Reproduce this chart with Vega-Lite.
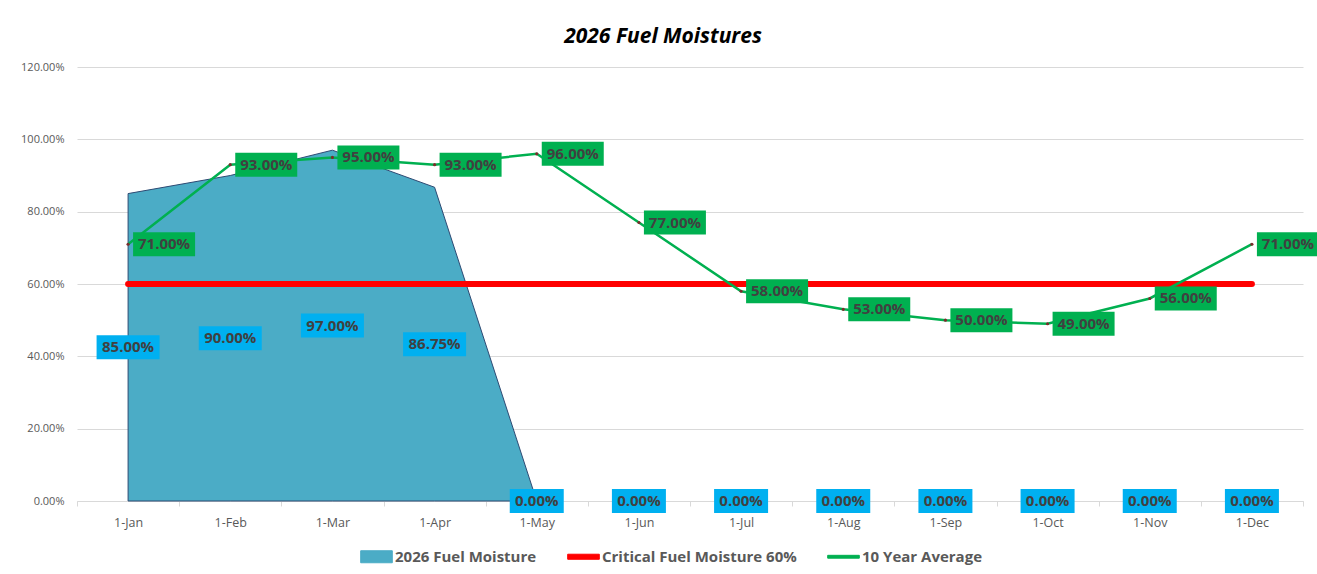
{
  "$schema": "https://vega.github.io/schema/vega-lite/v6.json",
  "width": 1226,
  "height": 434,
  "autosize": "none",
  "padding": {"left": 77, "top": 67, "right": 14, "bottom": 73},
  "background": "#ffffff",
  "config": {"view": {"stroke": null}, "font": "Open Sans"},
  "title": {"text": "2026 Fuel Moistures", "font": "Open Sans", "fontSize": 21, "fontWeight": "bold", "fontStyle": "italic", "color": "#000000", "anchor": "middle", "dx": -27, "offset": 14},
  "data": {"values": [
    {"month": "1-Jan", "fuel": 0.85, "critical": 0.6, "avg": 0.71},
    {"month": "1-Feb", "fuel": 0.90, "critical": 0.6, "avg": 0.93},
    {"month": "1-Mar", "fuel": 0.97, "critical": 0.6, "avg": 0.95},
    {"month": "1-Apr", "fuel": 0.8675, "critical": 0.6, "avg": 0.93},
    {"month": "1-May", "fuel": 0.0, "critical": 0.6, "avg": 0.96},
    {"month": "1-Jun", "fuel": 0.0, "critical": 0.6, "avg": 0.77},
    {"month": "1-Jul", "fuel": 0.0, "critical": 0.6, "avg": 0.58},
    {"month": "1-Aug", "fuel": 0.0, "critical": 0.6, "avg": 0.53},
    {"month": "1-Sep", "fuel": 0.0, "critical": 0.6, "avg": 0.50},
    {"month": "1-Oct", "fuel": 0.0, "critical": 0.6, "avg": 0.49},
    {"month": "1-Nov", "fuel": 0.0, "critical": 0.6, "avg": 0.56},
    {"month": "1-Dec", "fuel": 0.0, "critical": 0.6, "avg": 0.71}
  ]},
  "encoding": {
    "x": {"field": "month", "type": "nominal", "sort": null,
      "scale": {"type": "band", "paddingInner": 0, "paddingOuter": 0},
      "axis": {"title": null, "labelAngle": 0, "labelColor": "#595959", "labelFontSize": 12.5, "labelFont": "Open Sans", "tickBand": "extent", "tickSize": 5, "tickColor": "#D9D9D9", "domainColor": "#D9D9D9", "labelPadding": 10, "zindex": 0}}
  },
  "layer": [
    {
      "transform": [{"filter": "datum.fuel > 0 || datum.month === '1-May'"}],
      "mark": {"type": "area", "stroke": "#2E4A73", "strokeWidth": 1, "opacity": 1, "fillOpacity": 1},
      "encoding": {
        "y": {"field": "fuel", "type": "quantitative", "scale": {"domain": [0, 1.2]},
          "axis": {"title": null, "format": ".2%", "values": [0, 0.2, 0.4, 0.6, 0.8, 1.0, 1.2], "grid": true, "gridColor": "#D9D9D9", "domain": false, "ticks": false, "labelColor": "#595959", "labelFontSize": 11, "labelFont": "Open Sans", "labelPadding": 13}},
        "color": {"datum": "2026 Fuel Moisture", "type": "nominal",
          "scale": {"domain": ["2026 Fuel Moisture", "Critical Fuel Moisture 60%", "10 Year Average"], "range": ["#4BACC6", "#FF0000", "#00B050"]},
          "legend": {"title": null, "orient": "none", "legendX": 283, "legendY": 473, "direction": "horizontal", "columns": 3, "columnPadding": 28, "labelOffset": 2, "labelLimit": 400, "labelFont": "Open Sans", "labelFontSize": 15, "labelFontWeight": "bold", "labelColor": "#595959", "symbolSize": 1000,
            "symbolType": {"expr": "datum.value === '2026 Fuel Moisture' ? 'M-1,-0.38H1V0.38H-1Z' : (datum.value === '10 Year Average' ? 'M-1,-0.09H1V0.09H-1Z' : 'M-1,-0.16H1V0.16H-1Z')"},
            "symbolStrokeColor": {"expr": "datum.value === '2026 Fuel Moisture' ? '#2E4A73' : (datum.value === '10 Year Average' ? '#00B050' : '#FF0000')"},
            "symbolStrokeWidth": 1,
            "symbolOpacity": 1}
        }
      }
    },
    {
      "mark": {"type": "line", "strokeWidth": 6, "strokeCap": "round"},
      "encoding": {
        "y": {"field": "critical", "type": "quantitative", "scale": {"domain": [0, 1.2]}},
        "color": {"datum": "Critical Fuel Moisture 60%", "type": "nominal"}
      }
    },
    {
      "mark": {"type": "line", "strokeWidth": 2.5},
      "encoding": {
        "y": {"field": "avg", "type": "quantitative", "scale": {"domain": [0, 1.2]}},
        "color": {"datum": "10 Year Average", "type": "nominal"}
      }
    },
    {
      "mark": {"type": "point", "filled": true, "color": "#7B2C2C", "size": 10, "opacity": 1},
      "encoding": {
        "y": {"field": "avg", "type": "quantitative", "scale": {"domain": [0, 1.2]}}
      }
    },
    {
      "transform": [{"calculate": "datum.fuel / 2", "as": "labelPos"}],
      "layer": [
        {
          "mark": {"type": "point", "filled": true, "color": "#00B0F0", "opacity": 1},
          "encoding": {
            "y": {"field": "labelPos", "type": "quantitative", "scale": {"domain": [0, 1.2]}},
            "shape": {"condition": {"test": "datum.fuel == 0", "value": "M-1,-0.444H1V0.444H-1Z"}, "value": "M-1,-0.381H1V0.381H-1Z"},
            "size": {"condition": {"test": "datum.fuel == 0", "value": 2916}, "value": 3969}
          }
        },
        {
          "mark": {"type": "text", "font": "Open Sans", "fontSize": 15, "fontWeight": "bold", "color": "#404040", "align": "center", "baseline": "middle"},
          "encoding": {
            "y": {"field": "labelPos", "type": "quantitative", "scale": {"domain": [0, 1.2]}},
            "text": {"field": "fuel", "type": "quantitative", "format": ".2%"}
          }
        }
      ]
    },
    {
      "mark": {"type": "point", "filled": true, "color": "#00B050", "opacity": 1, "shape": "M-1,-0.387H1V0.387H-1Z", "size": 3844, "xOffset": 36},
      "encoding": {
        "y": {"field": "avg", "type": "quantitative", "scale": {"domain": [0, 1.2]}}
      }
    },
    {
      "mark": {"type": "text", "font": "Open Sans", "fontSize": 15, "fontWeight": "bold", "color": "#404040", "align": "center", "baseline": "middle", "dx": 36},
      "encoding": {
        "y": {"field": "avg", "type": "quantitative", "scale": {"domain": [0, 1.2]}},
        "text": {"field": "avg", "type": "quantitative", "format": ".2%"}
      }
    }
  ]
}
